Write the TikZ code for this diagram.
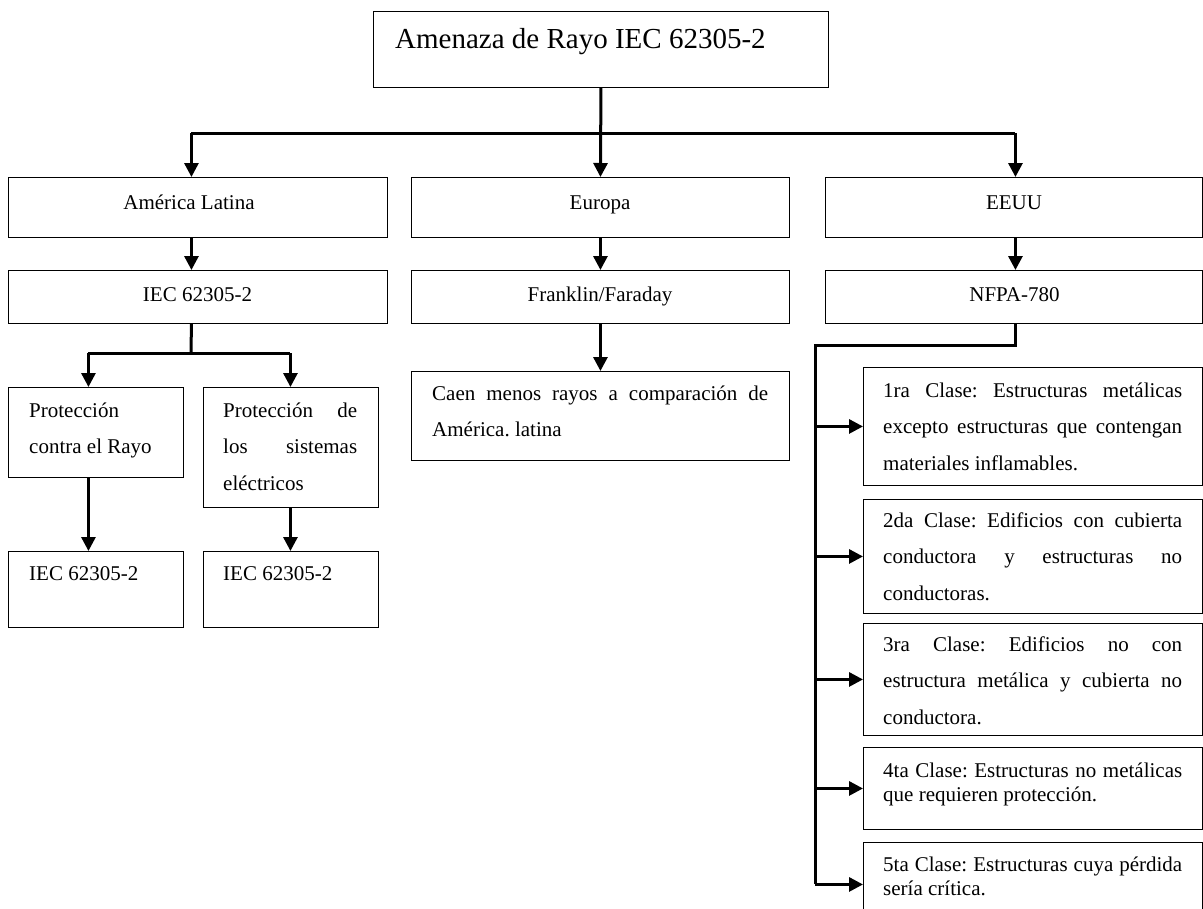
\documentclass[tikz,border=0pt]{standalone}
\usepackage{fontspec}
\setmainfont{Liberation Serif}
\usetikzlibrary{arrows.meta}
\newcommand\fsd{\fontsize{21bp}{36.5bp}\selectfont\frenchspacing}
\newcommand\fss{\fontsize{21bp}{24bp}\selectfont\frenchspacing}
\newcommand\fst{\fontsize{29bp}{35bp}\selectfont}
\begin{document}
\begin{tikzpicture}[x=1bp,y=-1bp,
  box/.style={draw, line width=0.9bp, inner sep=0, anchor=north west},
  conn/.style={line width=3bp, -{Triangle[length=14bp,width=14bp]}},
  trunk/.style={line width=3bp},
  txt/.style={inner sep=0, anchor=base west, font=\fsd, align=justify},
  ctxt/.style={inner sep=0, anchor=base, font=\fsd},
]
\clip (0,0) rectangle (1203,909);
\fill[white] (0,0) rectangle (1203,909);
% boxes
\node[box, minimum width=455bp, minimum height=76bp] (title) at (373,11) {};
\node[box, minimum width=379bp, minimum height=60bp] (am) at (8,177) {};
\node[box, minimum width=378bp, minimum height=60bp] (eu) at (411,177) {};
\node[box, minimum width=377bp, minimum height=60bp] (us) at (825,177) {};
\node[box, minimum width=379bp, minimum height=53bp] (iec) at (8,270) {};
\node[box, minimum width=378bp, minimum height=53bp] (fr) at (411,270) {};
\node[box, minimum width=377bp, minimum height=53bp] (nf) at (825,270) {};
\node[box, minimum width=175bp, minimum height=90bp] (pa) at (8,387) {};
\node[box, minimum width=175bp, minimum height=120bp] (pb) at (203,387) {};
\node[box, minimum width=175bp, minimum height=76bp] (ia) at (8,551) {};
\node[box, minimum width=175bp, minimum height=76bp] (ib) at (203,551) {};
\node[box, minimum width=378bp, minimum height=89bp] (caen) at (411,371) {};
\node[box, minimum width=339bp, minimum height=118bp] (c1) at (863,367) {};
\node[box, minimum width=339bp, minimum height=114bp] (c2) at (863,499) {};
\node[box, minimum width=339bp, minimum height=112bp] (c3) at (863,623) {};
\node[box, minimum width=339bp, minimum height=82bp] (c4) at (863,747) {};
\node[box, minimum width=339bp, minimum height=80bp] (c5) at (863,842) {};
% texts
\node[inner sep=0, anchor=base west, font=\fst] (ttitle) at (395,48) {Amenaza de Rayo IEC 62305-2};
\node[ctxt] (tam) at (189,209) {América Latina};
\node[ctxt] (teu) at (600,209) {Europa};
\node[ctxt] (tus) at (1014,209) {EEUU};
\node[ctxt] (tiec) at (197.5,301) {IEC 62305-2};
\node[ctxt] (tfr) at (600,301) {Franklin/Faraday};
\node[ctxt] (tnf) at (1014.5,301) {NFPA-780};
\node[txt, text width=135bp] (tpa) at (29,417) {Protección\newline contra el Rayo};
\node[txt, text width=134bp] (tpb) at (223,417) {Protección de\linebreak los sistemas\linebreak eléctricos};
\node[txt, text width=135bp] (tia) at (29,580) {IEC 62305-2};
\node[txt, text width=134bp] (tib) at (223,580) {IEC 62305-2};
\node[txt, text width=336bp] (tcaen) at (432,400) {Caen menos rayos a comparación de\linebreak América. latina};
\node[txt, text width=299bp] (tc1) at (883,397) {1ra Clase: Estructuras metálicas\linebreak excepto estructuras que contengan\linebreak materiales inflamables.};
\node[txt, text width=299bp] (tc2) at (883,527) {2da Clase: Edificios con cubierta\linebreak conductora y estructuras no\linebreak conductoras.};
\node[txt, text width=299bp] (tc3) at (883,651) {3ra Clase: Edificios no con\linebreak estructura metálica y cubierta no\linebreak conductora.};
\node[txt, text width=299bp, font=\fss] (tc4) at (883,777) {4ta Clase: Estructuras no metálicas\linebreak que requieren protección.};
\node[txt, text width=299bp, font=\fss] (tc5) at (883,871) {5ta Clase: Estructuras cuya pérdida\linebreak sería crítica.};
% connectors
\coordinate (hb) at (600,133);
\draw[conn] (title.south) -- (eu.north);
\draw[trunk] ([xshift=-6.5bp]am.north |- hb) -- ([xshift=1.5bp]us.north |- hb);
\draw[conn] ([xshift=-6.5bp]am.north |- hb) -- ([xshift=-6.5bp]am.north);
\draw[conn] ([xshift=1.5bp]us.north |- hb) -- ([xshift=1.5bp]us.north);
\draw[conn] ([xshift=-6.5bp]am.south) -- ([xshift=-6.5bp]iec.north);
\draw[conn] (eu.south) -- (fr.north);
\draw[conn] ([xshift=1.5bp]us.south) -- ([xshift=1.5bp]nf.north);
\coordinate (lb) at (191,353);
\draw[trunk] ([xshift=-6.5bp]iec.south) -- (lb);
\draw[trunk] ([xshift=-7.5bp]pa.north |- lb) -- ([xshift=-0.5bp]pb.north |- lb);
\draw[conn] ([xshift=-7.5bp]pa.north |- lb) -- ([xshift=-7.5bp]pa.north);
\draw[conn] ([xshift=-0.5bp]pb.north |- lb) -- ([xshift=-0.5bp]pb.north);
\draw[conn] ([xshift=-7.5bp]pa.south) -- ([xshift=-7.5bp]ia.north);
\draw[conn] ([xshift=-0.5bp]pb.south) -- ([xshift=-0.5bp]ib.north);
\draw[conn] (fr.south) -- (caen.north);
\coordinate (rb) at (815,345);
\coordinate (rend) at ([yshift=-2bp]c5.west -| rb);
\draw[trunk] ([xshift=1.5bp]nf.south) |- (rb) -- (rend);
\draw[conn] (c1.west -| rb) -- (c1.west);
\draw[conn] (c2.west -| rb) -- (c2.west);
\draw[conn] (c3.west -| rb) -- (c3.west);
\draw[conn] (c4.west -| rb) -- (c4.west);
\draw[conn] (rend) -- ([yshift=-2bp]c5.west);
\end{tikzpicture}
\end{document}
